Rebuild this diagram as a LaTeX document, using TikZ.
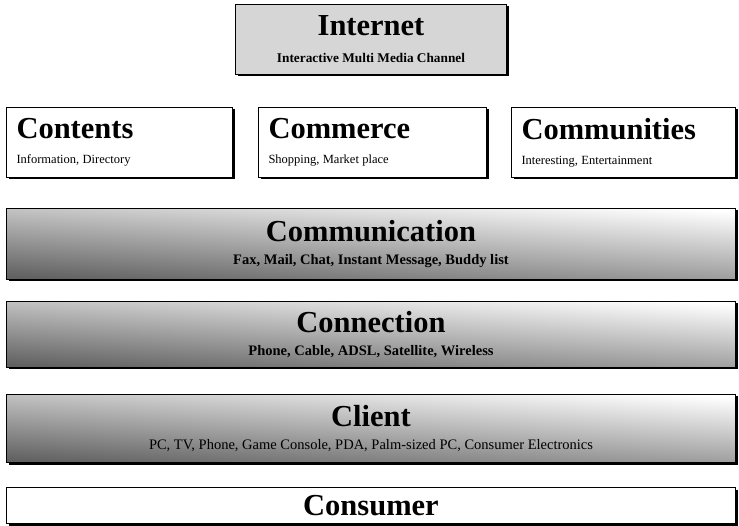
\documentclass[tikz,border=0pt]{standalone}
\usepackage{fontspec}
\setmainfont{Liberation Serif}
\usetikzlibrary{shadows}

% title and small text inside the layer boxes
\newcommand{\layertitle}[1]{{\fontsize{30.5}{32}\selectfont\bfseries #1}}
\newcommand{\layersub}[1]{{\fontsize{12.5}{14}\selectfont #1}}
\newcommand{\bandsub}[1]{{\fontsize{14.5}{16}\selectfont #1}}

\tikzset{
  layerbox/.style={draw=black, line width=1pt, fill=white, anchor=north west,
    inner sep=0pt, drop shadow={shadow xshift=2pt, shadow yshift=-2pt, fill=black, opacity=1}},
  band/.style={layerbox, top color=white, middle color=black!25, bottom color=black!62, shading angle=-3.5},
}

\begin{document}
\begin{tikzpicture}[x=1pt, y=-1pt]
\path[use as bounding box, fill=white] (0,0) rectangle (739,526);
% top of the stack
\node[layerbox, fill=black!16, minimum width=271pt, minimum height=70pt, align=center] (internet) at (235,4)
  {\layertitle{Internet}\\[15pt]{\bfseries\fontsize{13.3}{14}\selectfont Interactive Multi Media Channel}};
% the three services side by side
\node[layerbox, text width=206pt, inner xsep=10pt, minimum height=70pt, align=left] (contents) at (6,107)
  {\layertitle{Contents}\\[13pt]\layersub{Information, Directory}};
\node[layerbox, text width=208pt, inner xsep=10pt, minimum height=70pt, align=left] (commerce) at (258,107)
  {\layertitle{Commerce}\\[13pt]\layersub{Shopping, Market place}};
\node[layerbox, text width=204pt, inner xsep=10pt, minimum height=70pt, align=left] (communities) at (511,107)
  {\layertitle{Communities}\\[13pt]\layersub{Interesting, Entertainment}};
% full width layers
\node[band, minimum width=729pt, minimum height=71pt, align=center] (communication) at (6,208)
  {\layertitle{Communication}\\[11pt]{\bfseries\bandsub{Fax, Mail, Chat, Instant Message, Buddy list}}};
\node[band, minimum width=729pt, minimum height=66pt, align=center] (connection) at (6,301)
  {\layertitle{Connection}\\[11pt]{\bfseries\bandsub{Phone, Cable, ADSL, Satellite, Wireless}}};
\node[band, minimum width=729pt, minimum height=68pt, align=center] (client) at (6,394)
  {\layertitle{Client}\\[11pt]\bandsub{PC, TV, Phone, Game Console, PDA, Palm-sized PC, Consumer Electronics}};
\node[layerbox, minimum width=729pt, minimum height=36pt, align=center] (consumer) at (6,487)
  {\layertitle{Consumer}};
\end{tikzpicture}
\end{document}
